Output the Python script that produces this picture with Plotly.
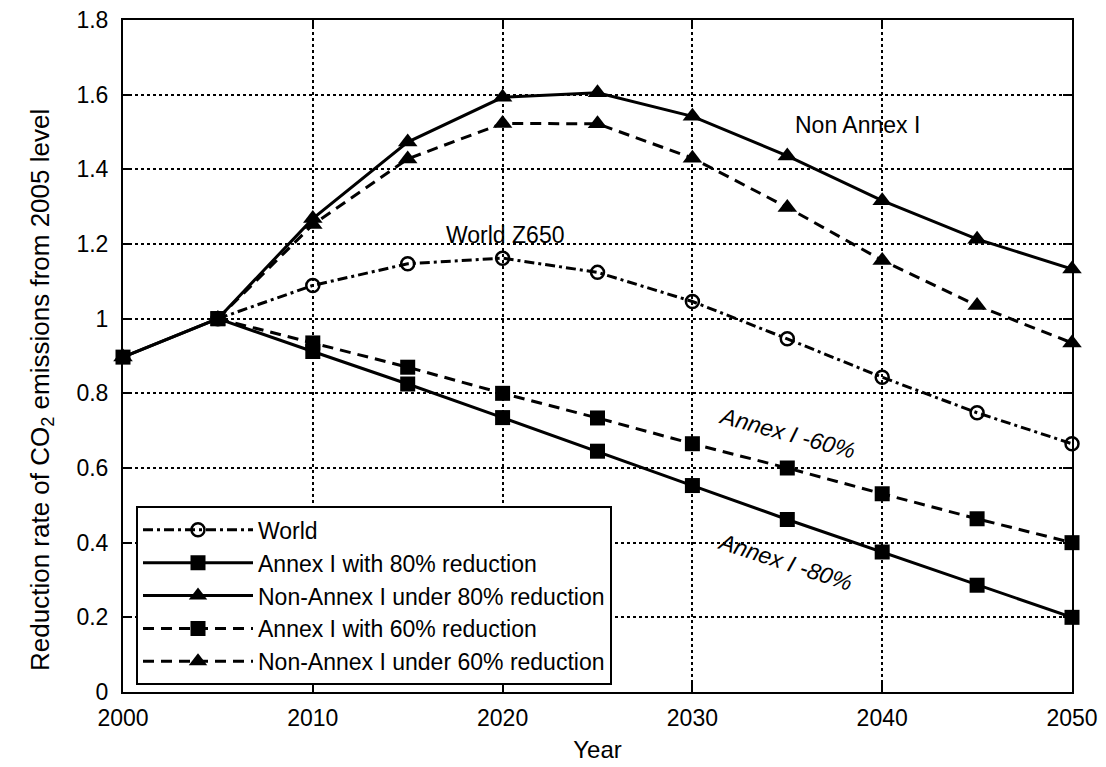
import plotly.graph_objects as go

years_solid = [2000, 2005, 2010, 2015, 2020, 2025, 2030, 2035, 2040, 2045, 2050]
years = [2005, 2010, 2015, 2020, 2025, 2030, 2035, 2040, 2045, 2050]

world = [1.0, 1.089, 1.147, 1.162, 1.124, 1.046, 0.946, 0.843, 0.748, 0.665]
annex80 = [0.897, 1.0, 0.912, 0.825, 0.735, 0.645, 0.553, 0.462, 0.375, 0.286, 0.2]
nonannex80 = [0.897, 1.0, 1.268, 1.473, 1.593, 1.605, 1.542, 1.436, 1.316, 1.213, 1.133]
annex60 = [1.0, 0.935, 0.870, 0.800, 0.734, 0.665, 0.600, 0.531, 0.464, 0.400]
nonannex60 = [1.0, 1.252, 1.428, 1.523, 1.522, 1.430, 1.298, 1.156, 1.035, 0.935]

x_ticks = [2000, 2010, 2020, 2030, 2040, 2050]
y_ticks = [0, 0.2, 0.4, 0.6, 0.8, 1, 1.2, 1.4, 1.6, 1.8]

FONT = "Liberation Sans, Arial, sans-serif"
FS = 23
LW = 3

fig = go.Figure()
fig.add_trace(go.Scatter(
    x=years, y=world, name="World", mode="lines+markers", cliponaxis=False,
    line=dict(color="black", width=LW, dash="10px,4px,3px,4px"),
    marker=dict(symbol="circle-open", size=13, color="black", line=dict(width=2.5))))
fig.add_trace(go.Scatter(
    x=years_solid, y=annex80, name="Annex I with 80% reduction", mode="lines+markers",
    cliponaxis=False,
    line=dict(color="black", width=LW),
    marker=dict(symbol="square", size=15, color="black")))
fig.add_trace(go.Scatter(
    x=years_solid, y=nonannex80, name="Non-Annex I under 80% reduction", mode="lines+markers",
    cliponaxis=False,
    line=dict(color="black", width=LW),
    marker=dict(symbol="triangle-up", size=17, color="black")))
fig.add_trace(go.Scatter(
    x=years, y=annex60, name="Annex I with 60% reduction", mode="lines+markers",
    cliponaxis=False,
    line=dict(color="black", width=LW, dash="11px,7px"),
    marker=dict(symbol="square", size=15, color="black")))
fig.add_trace(go.Scatter(
    x=years, y=nonannex60, name="Non-Annex I under 60% reduction", mode="lines+markers",
    cliponaxis=False,
    line=dict(color="black", width=LW, dash="11px,7px"),
    marker=dict(symbol="triangle-up", size=17, color="black")))

ann_font = dict(family=FONT, size=FS, color="black")
fig.add_annotation(x=2038.7, y=1.518, text="Non Annex I", showarrow=False, font=ann_font)
fig.add_annotation(x=2020.1, y=1.223, text="World Z650", showarrow=False, font=ann_font)
fig.add_annotation(x=2035.0, y=0.693, text="<i>Annex I -60%</i>", showarrow=False,
                   font=ann_font, textangle=15)
fig.add_annotation(x=2034.9, y=0.348, text="<i>Annex I -80%</i>", showarrow=False,
                   font=ann_font, textangle=18)
# y-axis title placed as a paper-referenced annotation
fig.add_annotation(xref="paper", yref="paper", x=-0.086, y=0.45,
                   text="Reduction rate of CO<sub>2</sub> emissions from 2005 level",
                   textangle=-90, showarrow=False, xanchor="center", yanchor="middle",
                   font=dict(family=FONT, size=26, color="black"))

axis_common = dict(
    showline=True, linecolor="black", linewidth=2, mirror="ticks",
    ticks="inside", ticklen=9, tickwidth=2, tickcolor="black",
    showgrid=True, gridcolor="black", gridwidth=1.5, griddash="dot",
    zeroline=False, automargin=False, ticklabeloverflow="allow",
    tickfont=dict(family=FONT, size=FS, color="black"),
)

fig.update_xaxes(range=[2000, 2050], tickvals=x_ticks,
                 ticktext=[str(v) for v in x_ticks],
                 ticklabelstandoff=4,
                 title=dict(text="Year", font=dict(family=FONT, size=24, color="black"), standoff=12),
                 **axis_common)
fig.update_yaxes(range=[0, 1.8], tickvals=y_ticks,
                 ticktext=[("%g" % v) for v in y_ticks],
                 ticklabelstandoff=8,
                 **axis_common)

# page body adds an 8px offset, so margins are shifted to keep the plot area in place
fig.update_layout(
    width=1106, height=767,
    margin=dict(l=115, r=42, t=12, b=83),
    plot_bgcolor="white", paper_bgcolor="white",
    font=dict(family=FONT, size=FS, color="black"),
    legend=dict(x=0.0137, y=0.01, xanchor="left", yanchor="bottom",
                bgcolor="white", bordercolor="black", borderwidth=2,
                font=dict(family=FONT, size=FS, color="black"),
                itemwidth=110, tracegroupgap=0),
    showlegend=True,
)

fig.write_html("out.html")
